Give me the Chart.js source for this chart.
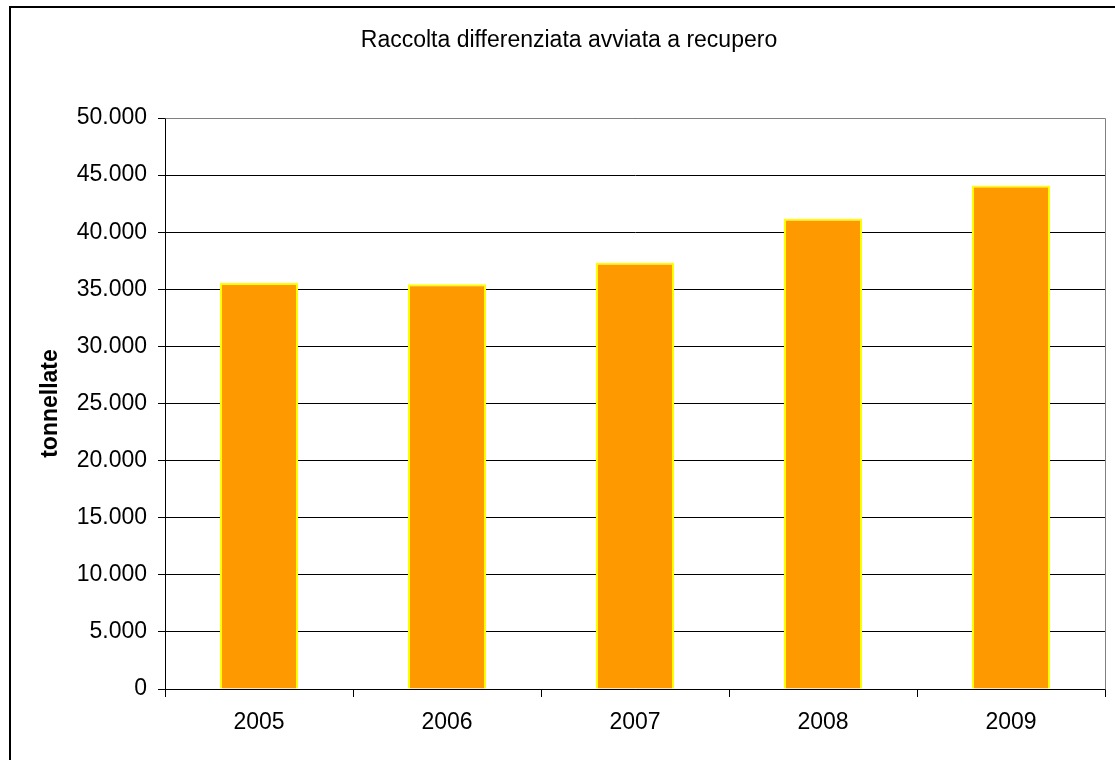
<!DOCTYPE html>
<html>
<head>
<meta charset="utf-8">
<script src="https://cdn.jsdelivr.net/npm/chart.js@4"></script>
<style>
  html, body { margin: 0; padding: 0; background: #fff; overflow: hidden; }
  #frame { position: absolute; left: 9px; top: 6px; width: 2000px; height: 2000px;
           border-left: 2px solid #000; border-top: 2px solid #000; }
  #c { position: absolute; left: 0; top: 0; }
</style>
</head>
<body>
<div id="frame"></div>
<canvas id="c" width="1115" height="760"></canvas>
<script>
const years = ['2005', '2006', '2007', '2008', '2009'];
const tonnellate = [35550, 35440, 37330, 41180, 44100];
const chartTitle = 'Raccolta differenziata avviata a recupero';
const yAxisTitle = 'tonnellate';
const yMin = 0, yMax = 50000, yStep = 5000;

const FONT = '"Liberation Sans", Arial, sans-serif';

function fmt(v) {
  return String(v).replace(/\B(?=(\d{3})+(?!\d))/g, '.');
}

const plotFrame = {
  id: 'plotFrame',
  beforeDatasetsDraw(chart) {
    const { ctx, chartArea: a } = chart;
    ctx.save();
    ctx.strokeStyle = '#808080';
    ctx.lineWidth = 1;
    ctx.beginPath();
    ctx.moveTo(Math.round(a.left) + 0.5, Math.round(a.top) + 0.5);
    ctx.lineTo(Math.round(a.right) + 0.5, Math.round(a.top) + 0.5);
    ctx.lineTo(Math.round(a.right) + 0.5, Math.round(a.bottom) + 0.5);
    ctx.stroke();
    ctx.restore();
  }
};

new Chart(document.getElementById('c'), {
  type: 'bar',
  data: {
    labels: years,
    datasets: [{
      data: tonnellate,
      backgroundColor: '#FF9900',
      borderColor: '#FFFF00',
      borderWidth: 2,
      categoryPercentage: 1,
      barPercentage: 0.415
    }]
  },
  options: {
    responsive: false,
    animation: false,
    layout: { padding: { left: 33, right: 10, top: 0, bottom: 0 } },
    plugins: {
      legend: { display: false },
      tooltip: { enabled: false },
      title: {
        display: true,
        text: chartTitle,
        color: '#000',
        font: { family: FONT, size: 23, weight: 'normal' },
        padding: { top: 27, bottom: 63.4 }
      }
    },
    scales: {
      x: {
        offset: true,
        grid: {
          drawOnChartArea: false,
          drawTicks: true,
          tickLength: 8,
          color: '#000',
          offset: true
        },
        border: { color: '#000', width: 1 },
        ticks: {
          color: '#000',
          font: { family: FONT, size: 23 },
          padding: 12,
          maxRotation: 0
        },
        afterFit(scale) { scale.height = 71; }
      },
      y: {
        min: yMin,
        max: yMax,
        grid: {
          color: '#000',
          lineWidth: 1,
          tickLength: 7
        },
        border: { color: '#000', width: 1 },
        ticks: {
          stepSize: yStep,
          color: '#000',
          font: { family: FONT, size: 23 },
          padding: 11,
          callback: (v) => fmt(v)
        },
        title: {
          display: true,
          text: yAxisTitle,
          color: '#000',
          font: { family: FONT, size: 23, weight: 'bold' },
          padding: { top: 4, bottom: 0 }
        },
        afterFit(scale) { scale.width = 132; }
      }
    }
  },
  plugins: [plotFrame]
});
</script>
</body>
</html>
